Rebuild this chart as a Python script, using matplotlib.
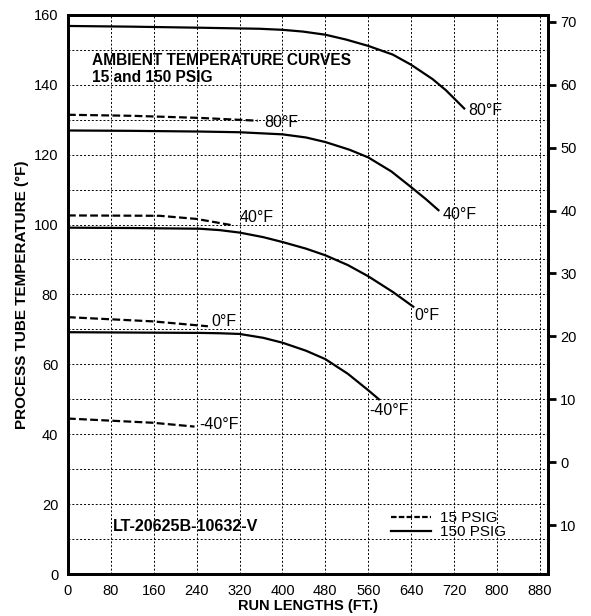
import matplotlib.pyplot as plt
from matplotlib.lines import Line2D

plt.rcParams['font.family'] = ['Liberation Sans', 'DejaVu Sans']

# 150 PSIG (solid) curves: run length (ft) vs process tube temperature (F)
run_80_hi = [0, 120, 246, 357, 400, 438, 480, 519, 560, 606, 640, 680, 705, 739]
temp_80_hi = [156.8, 156.6, 156.3, 156.0, 155.7, 155.2, 154.3, 152.9, 151.1, 148.6,
              145.7, 141.6, 138.4, 133.2]
run_40_hi = [0, 120, 246, 320, 400, 444, 480, 525, 560, 603, 640, 668, 691]
temp_40_hi = [126.9, 126.8, 126.6, 126.4, 125.8, 124.9, 123.6, 121.4, 119.2, 115.2,
              110.7, 107.2, 104.1]
run_0_hi = [0, 120, 246, 283, 320, 364, 400, 444, 480, 522, 560, 606, 644]
temp_0_hi = [99.1, 99.0, 98.8, 98.4, 97.7, 96.4, 95.0, 93.1, 91.2, 88.4, 85.2, 80.7, 76.5]
run_m40_hi = [0, 120, 246, 283, 320, 364, 400, 444, 480, 522, 560, 580]
temp_m40_hi = [69.2, 69.1, 69.0, 68.9, 68.7, 67.6, 66.2, 63.9, 61.5, 57.3, 52.6, 50.0]

# 15 PSIG (dashed) curves
run_80_lo = [0, 120, 246, 354]
temp_80_lo = [131.4, 131.1, 130.5, 129.7]
run_40_lo = [0, 171, 240, 306]
temp_40_lo = [102.6, 102.5, 101.6, 99.8]
run_0_lo = [0, 158, 261]
temp_0_lo = [73.5, 72.3, 70.9]
run_m40_lo = [0, 158, 236]
temp_m40_lo = [44.5, 43.3, 42.2]

# curve labels (ambient temperature)
labels_hi = ['80°F', '40°F', '0°F', '-40°F']
label_pos_hi = [(747, 131.4), (698, 101.6), (646, 72.6), (562, 45.4)]
labels_lo = ['80°F', '40°F', '0°F', '-40°F']
label_pos_lo = [(367, 127.8), (320, 100.6), (268, 71.1), (245, 41.4)]

x_ticks = [0, 80, 160, 240, 320, 400, 480, 560, 640, 720, 800, 880]
y_ticks = [0, 20, 40, 60, 80, 100, 120, 140, 160]
c_ticks = [-10, 0, 10, 20, 30, 40, 50, 60, 70]

fig = plt.figure(figsize=(5.91, 6.16), dpi=100)
ax = fig.add_axes([0.115, 0.068, 0.812, 0.908])

dash = (0, (3.5, 1.5))
lw = 1.6
ax.plot(run_80_hi, temp_80_hi, color='black', lw=lw)
ax.plot(run_40_hi, temp_40_hi, color='black', lw=lw)
ax.plot(run_0_hi, temp_0_hi, color='black', lw=lw)
ax.plot(run_m40_hi, temp_m40_hi, color='black', lw=lw)
ax.plot(run_80_lo, temp_80_lo, color='black', lw=lw, linestyle=dash)
ax.plot(run_40_lo, temp_40_lo, color='black', lw=lw, linestyle=dash)
ax.plot(run_0_lo, temp_0_lo, color='black', lw=lw, linestyle=dash)
ax.plot(run_m40_lo, temp_m40_lo, color='black', lw=lw, linestyle=dash)

for txt, (x, y) in zip(labels_hi, label_pos_hi):
    ax.text(x, y, txt, fontsize=11.5, va='baseline', ha='left')
for txt, (x, y) in zip(labels_lo, label_pos_lo):
    ax.text(x, y, txt, fontsize=11.5, va='baseline', ha='left')

ax.text(44, 145.7, 'AMBIENT TEMPERATURE CURVES', fontsize=11.2, fontweight='bold', va='baseline')
ax.text(44, 140.9, '15 and 150 PSIG', fontsize=11.2, fontweight='bold', va='baseline')
ax.text(84, 12.3, 'LT-20625B-10632-V', fontsize=11.6, fontweight='bold', va='baseline')

ax.set_xlim(0, 895)
ax.set_ylim(0, 160)
ax.set_xticks(x_ticks)
ax.set_yticks(y_ticks)
ax.set_yticks(range(10, 160, 20), minor=True)
ax.grid(True, which='both', color='black', linestyle=(0, (2, 2)), linewidth=0.7)
ax.tick_params(axis='both', which='both', length=0, labelsize=10.5, pad=7)

for s in ax.spines.values():
    s.set_linewidth(2)

ax.set_xlabel('RUN LENGTHS (FT.)', fontsize=10.5, fontweight='bold', labelpad=1)
ax.set_ylabel('PROCESS TUBE TEMPERATURE (°F)', fontsize=11, fontweight='bold', labelpad=3)

# right axis in Celsius
ax2 = ax.twinx()
ax2.set_ylim((0 - 32) / 1.8, (160 - 32) / 1.8)
ax2.set_yticks(c_ticks)
ax2.set_yticklabels([str(abs(c)) for c in c_ticks])
ax2.tick_params(axis='y', direction='out', length=6, width=2, labelsize=10.5, pad=3)
for s in ax2.spines.values():
    s.set_linewidth(2)

handles = [Line2D([], [], color='black', lw=lw, linestyle=(0, (2.5, 1.0))),
           Line2D([], [], color='black', lw=lw)]
ax.legend(handles, ['15 PSIG', '150 PSIG'], frameon=False, loc='lower left',
          bbox_to_anchor=(0.674, 0.063), borderpad=0, borderaxespad=0,
          handlelength=2.6, handletextpad=0.55, labelspacing=0.0, fontsize=11)

fig.savefig('out.png', dpi=100)
